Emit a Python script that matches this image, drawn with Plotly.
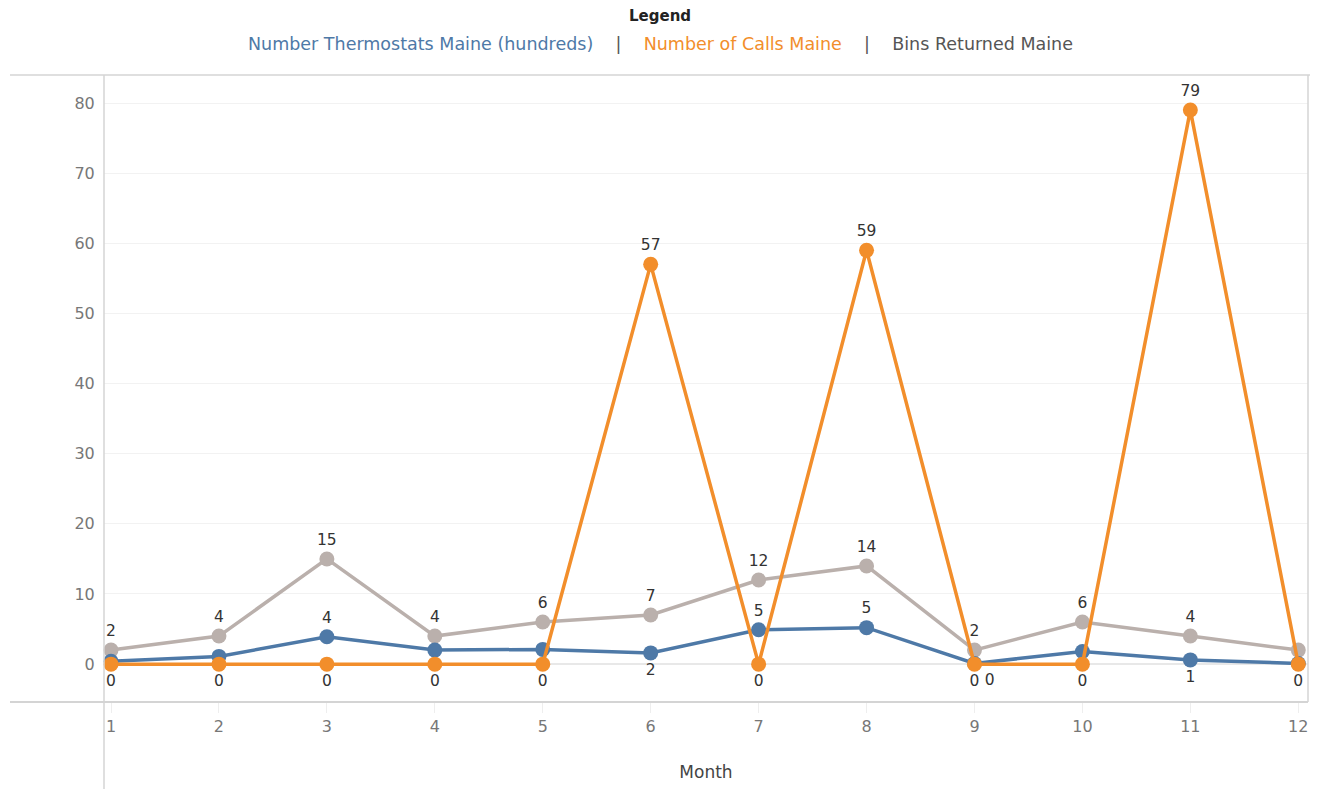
import plotly.graph_objects as go

# 月ごとのデータ
months = [1, 2, 3, 4, 5, 6, 7, 8, 9, 10, 11, 12]
thermostats = [0.4, 1.1, 3.9, 2.0, 2.1, 1.6, 4.9, 5.2, 0.1, 1.8, 0.6, 0.1]
calls = [0, 0, 0, 0, 0, 57, 0, 59, 0, 0, 79, 0]
bins_returned = [2, 4, 15, 4, 6, 7, 12, 14, 2, 6, 4, 2]

# 表示するラベル（Tableau風に一部のみ）
thermo_labels = ["", "", "4", "", "", "2", "5", "5", "0", "", "1", ""]
thermo_pos = ["top center"] * 5 + ["bottom center", "top center", "top center",
                                     "bottom right", "top center", "bottom center", "top center"]
calls_labels = [str(v) for v in calls]
calls_pos = ["top center" if v > 0 else "bottom center" for v in calls]
bins_labels = [str(v) for v in bins_returned[:-1]] + [""]

names = ["Number Thermostats Maine (hundreds)", "Number of Calls Maine", "Bins Returned Maine"]
colors = ["#4e79a7", "#f28e2b", "#bab0ac"]

FONT = "DejaVu Sans, Verdana, sans-serif"

# ページの body margin (8px) を考慮した配置
OFF = 8
PLOT_L, PLOT_R, PLOT_T, PLOT_B = 104 - OFF, 1308 - OFF, 75 - OFF, 702 - OFF
FIG_W, FIG_H = 1320 - OFF, 789 - OFF


def main():
    fig = go.Figure()

    fig.add_trace(go.Scatter(
        x=months, y=bins_returned, mode="lines+markers+text", name=names[2],
        line=dict(color=colors[2], width=3.5), marker=dict(size=15, color=colors[2]),
        text=bins_labels, textposition="top center",
        textfont=dict(size=15.5, color="#333333", family=FONT), cliponaxis=False,
    ))
    fig.add_trace(go.Scatter(
        x=months, y=thermostats, mode="lines+markers+text", name=names[0],
        line=dict(color=colors[0], width=3.5), marker=dict(size=15, color=colors[0]),
        text=thermo_labels, textposition=thermo_pos,
        textfont=dict(size=15.5, color="#333333", family=FONT), cliponaxis=False,
    ))
    fig.add_trace(go.Scatter(
        x=months, y=calls, mode="lines+markers+text", name=names[1],
        line=dict(color=colors[1], width=3.5), marker=dict(size=15, color=colors[1]),
        text=calls_labels, textposition=calls_pos,
        textfont=dict(size=15.5, color="#333333", family=FONT), cliponaxis=False,
    ))

    W, H = PLOT_R - PLOT_L, PLOT_B - PLOT_T

    def px_x(v):
        return (v - OFF - PLOT_L) / W

    def px_y(v):
        return (PLOT_B - (v - OFF)) / H

    # 凡例（テキストのみ）
    legend_text = (
        f'<span style="color:{colors[0]}">{names[0]}</span>'
        '<span style="color:#555">    |    </span>'
        f'<span style="color:{colors[1]}">{names[1]}</span>'
        '<span style="color:#555">    |    </span>'
        f'<span style="color:#555">{names[2]}</span>'
    )
    fig.add_annotation(text="<b>Legend</b>", x=px_x(660), y=px_y(16), xref="paper", yref="paper",
                       yanchor="middle", showarrow=False,
                       font=dict(size=15, color="#222", family=FONT))
    fig.add_annotation(text=legend_text, x=px_x(660), y=px_y(44), xref="paper", yref="paper",
                       yanchor="middle", showarrow=False, font=dict(size=17.5, family=FONT))

    # 線（枠・区切り）
    line_col = "#d4d4d4"
    fig.add_shape(type="line", xref="paper", yref="paper",
                  x0=px_x(10), x1=px_x(1310), y0=1, y1=1, line=dict(color=line_col, width=1.5))
    fig.add_shape(type="line", xref="paper", yref="paper",
                  x0=px_x(10), x1=1, y0=0, y1=0, line=dict(color=line_col, width=2))
    fig.add_shape(type="line", xref="paper", yref="paper",
                  x0=0, x1=0, y0=px_y(789), y1=1, line=dict(color=line_col, width=1.5))
    fig.add_shape(type="line", xref="paper", yref="paper",
                  x0=1, x1=1, y0=0, y1=1, line=dict(color=line_col, width=1.5))

    fig.update_layout(
        width=FIG_W, height=FIG_H,
        margin=dict(l=PLOT_L, r=FIG_W - PLOT_R, t=PLOT_T, b=FIG_H - PLOT_B),
        paper_bgcolor="white", plot_bgcolor="white",
        showlegend=False,
        font=dict(family=FONT, color="#666"),
        xaxis=dict(
            range=[0.935, 12.09], tickmode="array", tickvals=months,
            showgrid=False, zeroline=False, showline=False,
            ticks="outside", ticklen=10, tickcolor="#eeeeee",
            tickfont=dict(size=16, color="#777"),
            title=dict(text="Month", font=dict(size=17, color="#444"), standoff=30),
        ),
        yaxis=dict(
            range=[-5.4, 84], tickvals=[0, 10, 20, 30, 40, 50, 60, 70, 80],
            showgrid=True, gridcolor="#f2f2f2", zeroline=True, zerolinecolor="#e8e8e8",
            showline=False, ticks="outside", ticklen=5, tickcolor="rgba(0,0,0,0)",
            tickfont=dict(size=16, color="#777"),
        ),
    )

    fig.write_html("out.html")


if __name__ == "__main__":
    main()
